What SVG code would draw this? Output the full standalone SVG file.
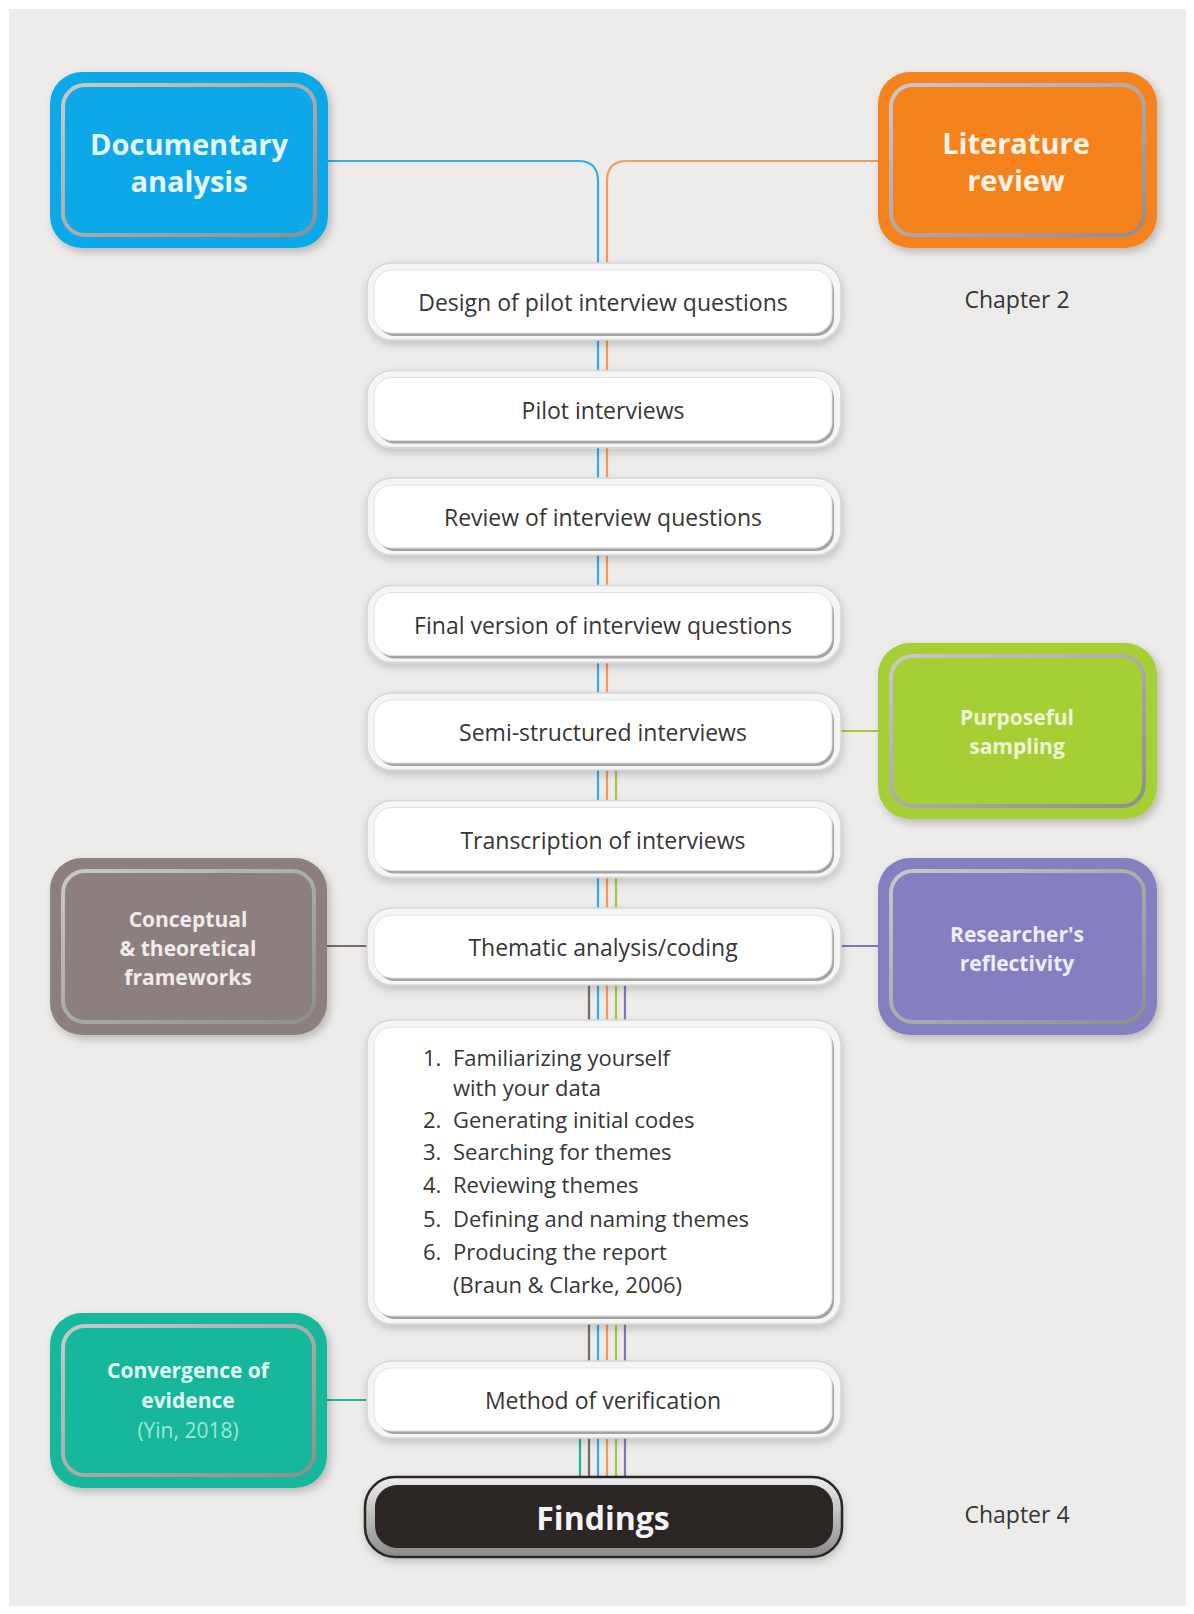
<svg xmlns="http://www.w3.org/2000/svg" width="1194" height="1614" viewBox="0 0 1194 1614">
<defs>
  <filter id="sh" x="-20%" y="-20%" width="140%" height="150%">
    <feDropShadow dx="3" dy="4" stdDeviation="4" flood-color="#000" flood-opacity="0.22"/>
  </filter>
  <filter id="sh2" x="-10%" y="-30%" width="120%" height="170%">
    <feDropShadow dx="1" dy="4" stdDeviation="4" flood-color="#000" flood-opacity="0.18"/>
  </filter>
  <linearGradient id="ring" x1="0" y1="0" x2="1" y2="1">
    <stop offset="0" stop-color="#c9c9c9"/>
    <stop offset="1" stop-color="#8e8e8e"/>
  </linearGradient>
  <linearGradient id="fring" x1="0" y1="0" x2="0" y2="1">
    <stop offset="0" stop-color="#eeeeee"/>
    <stop offset="1" stop-color="#8a8a8a"/>
  </linearGradient>
</defs>
<style>
  .side-text { font-family: "Open Sans", "DejaVu Sans", sans-serif; font-weight: 700; text-anchor: middle; }
  .big { font-size: 29px; }
  .small { font-size: 21px; }
  .ctext { font-family: "Open Sans", "DejaVu Sans", sans-serif; font-size: 23px; font-weight: 500; fill: #363636; text-anchor: middle; }
  .ltext { font-family: "Open Sans", "DejaVu Sans", sans-serif; font-size: 22px; font-weight: 500; fill: #363636; }
  .chap { font-family: "Open Sans", "DejaVu Sans", sans-serif; font-size: 23px; font-weight: 500; fill: #363636; text-anchor: middle; }
  .halo { fill: #f5f5f4; stroke: #d6d6d6; stroke-width: 1.5; }
  .bev { fill: #a3a3a3; }
  .wbox { fill: #ffffff; stroke: #e2e2e2; stroke-width: 1; }
  .ring { fill: none; stroke: url(#ring); stroke-width: 4; }
  .conn { fill: none; stroke-width: 2.2; }
</style>

<rect x="0" y="0" width="1194" height="1614" fill="#ffffff"/>
<rect x="9" y="9" width="1177" height="1597" fill="#edecea"/>

<g id="connectors">
  <path class="conn" stroke="#35ade3" d="M 328 161 H 578 Q 598 161 598 181 V 1486"/>
  <path class="conn" stroke="#f29b5c" d="M 878 161 H 627 Q 607 161 607 181 V 1486"/>
  <path class="conn" stroke="#a6c83e" d="M 878 731 H 616 V 1486"/>
  <path class="conn" stroke="#776b69" d="M 327 946 H 589 V 1486"/>
  <path class="conn" stroke="#7d78b8" d="M 878 946 H 625 V 1486"/>
  <path class="conn" stroke="#22b497" d="M 327 1400 H 580 V 1486"/>
</g>

<!-- Side boxes -->
<g id="documentary-analysis">
  <rect x="50" y="72" width="278" height="176" rx="32" fill="#0ea8e8" filter="url(#sh)"/>
  <rect x="63" y="85" width="252" height="150" rx="22" class="ring"/>
  <text class="side-text big" fill="#e6f6fd"><tspan x="189" y="155">Documentary</tspan><tspan x="189" y="192">analysis</tspan></text>
</g>
<g id="literature-review">
  <rect x="878" y="72" width="279" height="176" rx="32" fill="#f5821f" filter="url(#sh)"/>
  <rect x="891" y="85" width="253" height="150" rx="22" class="ring"/>
  <text class="side-text big" fill="#fff3e6"><tspan x="1016" y="154">Literature</tspan><tspan x="1016" y="191">review</tspan></text>
</g>
<g id="purposeful-sampling">
  <rect x="878" y="643" width="279" height="176" rx="32" fill="#a5cf35" filter="url(#sh)"/>
  <rect x="891" y="656" width="253" height="150" rx="22" class="ring"/>
  <text class="side-text small" fill="#eff7d8"><tspan x="1017" y="725">Purposeful</tspan><tspan x="1017" y="754">sampling</tspan></text>
</g>
<g id="conceptual-frameworks">
  <rect x="50" y="858" width="277" height="177" rx="32" fill="#8c7f7d" filter="url(#sh)"/>
  <rect x="63" y="871" width="251" height="151" rx="22" class="ring"/>
  <text class="side-text small" fill="#f2edeb"><tspan x="188" y="927">Conceptual</tspan><tspan x="188" y="956">&amp; theoretical</tspan><tspan x="188" y="985">frameworks</tspan></text>
</g>
<g id="researchers-reflectivity">
  <rect x="878" y="858" width="279" height="177" rx="32" fill="#837fc0" filter="url(#sh)"/>
  <rect x="891" y="871" width="253" height="151" rx="22" class="ring"/>
  <text class="side-text small" fill="#efeefa"><tspan x="1017" y="942">Researcher's</tspan><tspan x="1017" y="971">reflectivity</tspan></text>
</g>
<g id="convergence-of-evidence">
  <rect x="50" y="1313" width="277" height="175" rx="32" fill="#17b79a" filter="url(#sh)"/>
  <rect x="63" y="1326" width="251" height="149" rx="22" class="ring"/>
  <text class="side-text small" fill="#e4fbf4"><tspan x="188" y="1378">Convergence of</tspan><tspan x="188" y="1408">evidence</tspan></text>
  <text x="188" y="1438" font-family="Open Sans, DejaVu Sans, sans-serif" font-size="21" fill="#a2e6d6" text-anchor="middle">(Yin, 2018)</text>
</g>

<!-- Center boxes -->
<g id="design-pilot-questions">
  <rect x="367" y="263" width="474" height="77" rx="25" class="halo" filter="url(#sh2)"/>
  <rect x="377" y="273" width="457" height="63" rx="18" class="bev"/>
  <rect x="374" y="270" width="458" height="63" rx="18" class="wbox"/>
  <text class="ctext" x="603" y="311">Design of pilot interview questions</text>
</g>
<g id="pilot-interviews">
  <rect x="367" y="370.5" width="474" height="77" rx="25" class="halo" filter="url(#sh2)"/>
  <rect x="377" y="380.5" width="457" height="63" rx="18" class="bev"/>
  <rect x="374" y="377.5" width="458" height="63" rx="18" class="wbox"/>
  <text class="ctext" x="603" y="418.5">Pilot interviews</text>
</g>
<g id="review-questions">
  <rect x="367" y="478" width="474" height="77" rx="25" class="halo" filter="url(#sh2)"/>
  <rect x="377" y="488" width="457" height="63" rx="18" class="bev"/>
  <rect x="374" y="485" width="458" height="63" rx="18" class="wbox"/>
  <text class="ctext" x="603" y="526">Review of interview questions</text>
</g>
<g id="final-questions">
  <rect x="367" y="585.5" width="474" height="77" rx="25" class="halo" filter="url(#sh2)"/>
  <rect x="377" y="595.5" width="457" height="63" rx="18" class="bev"/>
  <rect x="374" y="592.5" width="458" height="63" rx="18" class="wbox"/>
  <text class="ctext" x="603" y="633.5">Final version of interview questions</text>
</g>
<g id="semi-structured-interviews">
  <rect x="367" y="693" width="474" height="77" rx="25" class="halo" filter="url(#sh2)"/>
  <rect x="377" y="703" width="457" height="63" rx="18" class="bev"/>
  <rect x="374" y="700" width="458" height="63" rx="18" class="wbox"/>
  <text class="ctext" x="603" y="741">Semi-structured interviews</text>
</g>
<g id="transcription">
  <rect x="367" y="800.5" width="474" height="77" rx="25" class="halo" filter="url(#sh2)"/>
  <rect x="377" y="810.5" width="457" height="63" rx="18" class="bev"/>
  <rect x="374" y="807.5" width="458" height="63" rx="18" class="wbox"/>
  <text class="ctext" x="603" y="848.5">Transcription of interviews</text>
</g>
<g id="thematic-analysis">
  <rect x="367" y="908" width="474" height="77" rx="25" class="halo" filter="url(#sh2)"/>
  <rect x="377" y="918" width="457" height="63" rx="18" class="bev"/>
  <rect x="374" y="915" width="458" height="63" rx="18" class="wbox"/>
  <text class="ctext" x="603" y="956">Thematic analysis/coding</text>
</g>
<g id="phases-list">
  <rect x="367" y="1020" width="474" height="304" rx="25" class="halo" filter="url(#sh2)"/>
  <rect x="377" y="1030" width="457" height="289" rx="18" class="bev"/>
  <rect x="374" y="1027" width="458" height="289" rx="18" class="wbox"/>
  <text class="ltext"><tspan x="423" y="1066">1.</tspan><tspan x="453" y="1066">Familiarizing yourself</tspan></text>
  <text class="ltext" x="453" y="1096">with your data</text>
  <text class="ltext"><tspan x="423" y="1128">2.</tspan><tspan x="453" y="1128">Generating initial codes</tspan></text>
  <text class="ltext"><tspan x="423" y="1160">3.</tspan><tspan x="453" y="1160">Searching for themes</tspan></text>
  <text class="ltext"><tspan x="423" y="1193">4.</tspan><tspan x="453" y="1193">Reviewing themes</tspan></text>
  <text class="ltext"><tspan x="423" y="1227">5.</tspan><tspan x="453" y="1227">Defining and naming themes</tspan></text>
  <text class="ltext"><tspan x="423" y="1260">6.</tspan><tspan x="453" y="1260">Producing the report</tspan></text>
  <text class="ltext" x="453" y="1293" fill="#6a6a6a" font-weight="400">(Braun &amp; Clarke, 2006)</text>
</g>
<g id="method-verification">
  <rect x="367" y="1361" width="474" height="77" rx="25" class="halo" filter="url(#sh2)"/>
  <rect x="377" y="1371" width="457" height="63" rx="18" class="bev"/>
  <rect x="374" y="1368" width="458" height="63" rx="18" class="wbox"/>
  <text class="ctext" x="603" y="1409">Method of verification</text>
</g>
<g id="findings">
  <rect x="365" y="1477" width="477" height="80" rx="30" fill="url(#fring)" stroke="#2b2523" stroke-width="2.5" filter="url(#sh2)"/>
  <rect x="375" y="1485" width="458" height="63" rx="22" fill="#2b2523"/>
  <text x="603" y="1530" font-family="Open Sans, DejaVu Sans, sans-serif" font-size="32" font-weight="700" fill="#f4f4f4" text-anchor="middle">Findings</text>
</g>

<g id="chapter-labels">
  <text class="chap" x="1017" y="308">Chapter 2</text>
  <text class="chap" x="1017" y="1523">Chapter 4</text>
</g>
</svg>
